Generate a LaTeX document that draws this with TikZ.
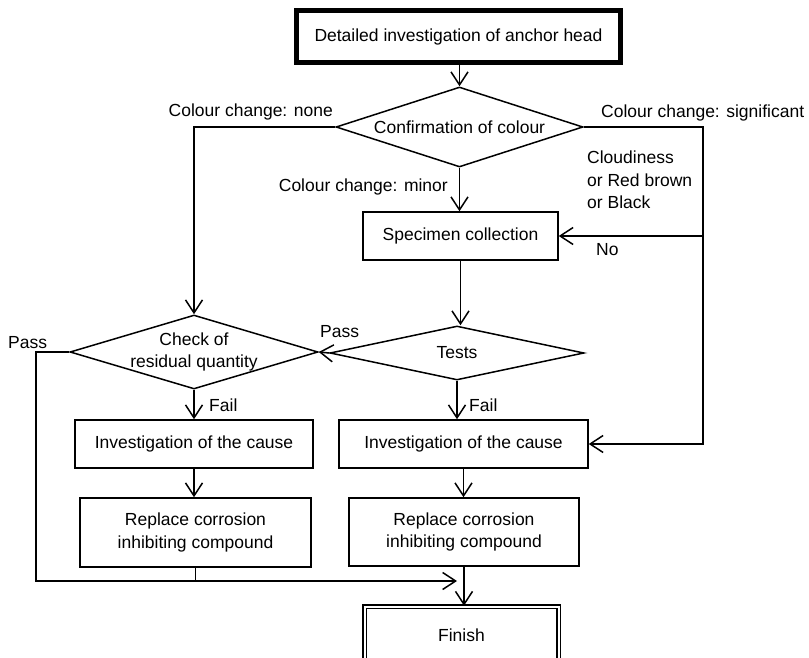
\documentclass[tikz,border=0pt]{standalone}
\usepackage{fontspec}
\setmainfont{Liberation Sans}
\usetikzlibrary{shapes.geometric,arrows.meta}
\tikzset{
  proc/.style={draw, line width=1.5pt, align=center, inner sep=0pt},
  decision/.style={draw, diamond, line width=1.5pt, inner sep=0pt},
  lbl/.style={inner sep=0pt, align=left},
  flow/.style={line width=1.5pt, ->}
}
\begin{document}
\begin{tikzpicture}[x=1pt,y=-1pt,>={Straight Barb[length=13pt,width=17pt]},
    font=\fontsize{17.5}{22.5}\selectfont]
  \useasboundingbox (0,0) rectangle (809,658);
  \clip (0,0) rectangle (809,658);

  \node[proc, line width=5pt, minimum width=324pt, minimum height=52pt] (start) at (458.5,36.5) {Detailed investigation of anchor head};
  \node[decision, minimum width=247pt, minimum height=80pt, label={center:Confirmation of colour}] (colour) at (459.5,127) {};
  \node[proc, minimum width=195pt, minimum height=48pt] (spec) at (460.5,236) {Specimen collection};
  \node[decision, minimum width=254pt, minimum height=54pt, label={center:Tests}] (tests) at (457,353) {};
  \node[decision, minimum width=248pt, minimum height=74pt, label={[align=center]center:Check of\\residual quantity}] (check) at (194,352) {};
  \node[proc, minimum width=238pt, minimum height=48pt] (inv1) at (194,444) {Investigation of the cause};
  \node[proc, minimum width=249pt, minimum height=48pt] (inv2) at (463.5,444) {Investigation of the cause};
  \node[proc, minimum width=231pt, minimum height=69pt] (rep1) at (195.5,532.5) {Replace corrosion\\inhibiting compound};
  \node[proc, minimum width=230pt, minimum height=68pt] (rep2) at (464,532) {Replace corrosion\\inhibiting compound};
  \node[proc, double, double distance=2pt, minimum width=194pt, minimum height=57pt] (finish) at (461.5,635) {Finish};

  \coordinate (rt) at (703,127);
  \coordinate (lb) at (36,581);
  \coordinate (mg) at (457,581);

  \draw[flow] (colour.north |- start.south) -- (colour.north);
  \draw[flow] (colour.west) -| (check.north);
  \draw[flow] (colour.east) -- (rt) |- (inv2.east);
  \draw[flow] (rt |- spec.east) -- (spec.east);
  \draw[flow] (colour.south) -- (colour.south |- spec.north);
  \draw[flow] (spec.south) -- (spec.south |- tests.north);
  \draw[flow] (tests.west) -- (check.east);
  \draw[flow] (tests.south) -- (tests.south |- inv2.north);
  \draw[flow] (check.south) -- (check.south |- inv1.north);
  \draw[flow] (inv1.south) -- (inv1.south |- rep1.north);
  \draw[flow] (inv2.south) -- (inv2.south |- rep2.north);
  \draw[flow] (rep2.south) -- (rep2.south |- finish.north);
  \draw[flow] (check.west) -| (lb) -- (mg);
  \draw[line width=1.5pt] (rep1.south) -- (rep1.south |- lb);

  \node[lbl, anchor=east] (none) at (333,112) {Colour change: none};
  \node[lbl, anchor=west] (signif) at (601,113) {Colour change: significant};
  \node[lbl, anchor=east] (minor) at (448,187) {Colour change: minor};
  \node[lbl, anchor=west] (cloud) at (587,180) {Cloudiness\\or Red brown\\or Black};
  \node[lbl, anchor=west] (no) at (596,250) {No};
  \node[lbl, anchor=west] (passm) at (320,332) {Pass};
  \node[lbl, anchor=west] (passl) at (8,343) {Pass};
  \node[lbl, anchor=west] (faill) at (209,405) {Fail};
  \node[lbl, anchor=west] (failr) at (469,405) {Fail};
\end{tikzpicture}
\end{document}
